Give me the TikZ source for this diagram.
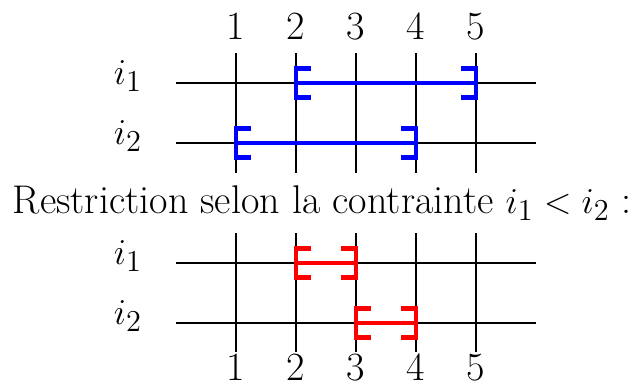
\documentclass[tikz,border=0pt]{standalone}
\begin{document}
\begin{tikzpicture}[
  grid/.style={black, line width=0.6pt},
  bl/.style={blue, line width=2.3pt},
  rd/.style={red, line width=2.3pt},
  lab/.style={font=\fontsize{19}{22}\selectfont, inner sep=0pt}
]
\useasboundingbox (-3.933,0) rectangle (6.8,6.383);
% top grid
\foreach \i in {0,...,4} {
  \draw[grid] (\i,5.5) -- (\i,3.5);
  \pgfmathtruncatemacro{\n}{\i+1}
  \node[lab, anchor=base] (t\n) at (\i,5.733) {\n};
}
\draw[grid] (-1,5) -- (5,5);
\draw[grid] (-1,4) -- (5,4);
\node[lab] (ti1) at (-1.8,5.12) {$i_1$};
\node[lab] (ti2) at (-1.8,4.12) {$i_2$};
% blue intervals
\draw[bl] (1.25,5.24) -- (1,5.24) -- (1,4.76) -- (1.25,4.76);
\draw[bl] (1,5) -- (4,5);
\draw[bl] (3.75,5.24) -- (4,5.24) -- (4,4.76) -- (3.75,4.76);
\draw[bl] (0.25,4.24) -- (0,4.24) -- (0,3.76) -- (0.25,3.76);
\draw[bl] (0,4) -- (3,4);
\draw[bl] (2.75,4.24) -- (3,4.24) -- (3,3.76) -- (2.75,3.76);
% text
\node[lab] (txt) at (1.44,3.0) {Restriction selon la contrainte $i_1 < i_2$ :};
% bottom grid
\foreach \i in {0,...,4} {
  \draw[grid] (\i,2.5) -- (\i,0.52);
  \pgfmathtruncatemacro{\n}{\i+1}
  \node[lab, anchor=base] (b\n) at (\i,0.05) {\n};
}
\draw[grid] (-1,2) -- (5,2);
\draw[grid] (-1,1) -- (5,1);
\node[lab] (bi1) at (-1.8,2.12) {$i_1$};
\node[lab] (bi2) at (-1.8,1.12) {$i_2$};
% red intervals
\draw[rd] (1.25,2.24) -- (1,2.24) -- (1,1.76) -- (1.25,1.76);
\draw[rd] (1,2) -- (2,2);
\draw[rd] (1.75,2.24) -- (2,2.24) -- (2,1.76) -- (1.75,1.76);
\draw[rd] (2.25,1.24) -- (2,1.24) -- (2,0.76) -- (2.25,0.76);
\draw[rd] (2,1) -- (3,1);
\draw[rd] (2.75,1.24) -- (3,1.24) -- (3,0.76) -- (2.75,0.76);
\end{tikzpicture}
\end{document}
